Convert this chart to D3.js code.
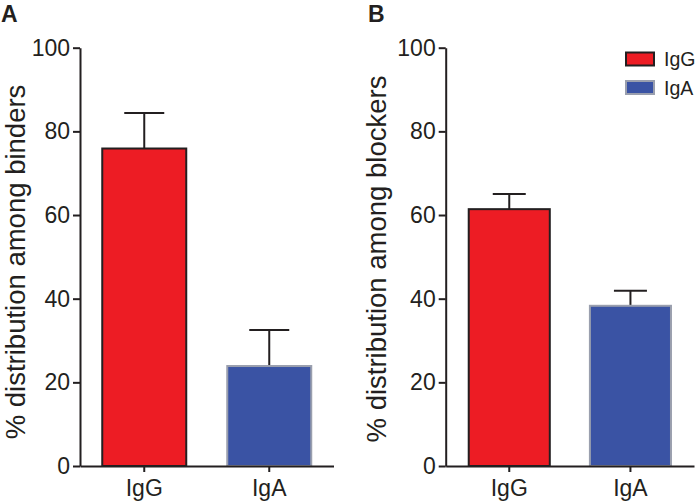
<!DOCTYPE html>
<html>
<head>
<meta charset="utf-8">
<script src="https://cdn.jsdelivr.net/npm/d3@7"></script>
<style>
  html, body { margin: 0; padding: 0; background: #fff; }
  svg { display: block; font-family: "Liberation Sans", Arial, Helvetica, sans-serif; }
</style>
</head>
<body>
<svg id="chart" width="700" height="503"></svg>
<script>
// ---- data ----
const categories = ["IgG", "IgA"];
const bindersMean = [75.9, 23.9];
const bindersSEM = [8.5, 8.6];
const blockersMean = [61.4, 38.3];
const blockersSEM = [3.6, 3.6];
const yTicks = [0, 20, 40, 60, 80, 100];
const panelLetters = ["A", "B"];
const yTitles = ["% distribution among binders", "% distribution among blockers"];
const legendLabels = ["IgG", "IgA"];

// ---- styles ----
const ink = "#231f20";
const fills = ["#ed1c24", "#3a53a4"];
const strokes = ["#231f20", "#9a9fae"];

const svg = d3.select("#chart");

const panels = [
  { mean: bindersMean, sem: bindersSEM, letter: panelLetters[0], title: yTitles[0],
    x0: 80, x1: 333.5, pIn: 0.328, pOut: 0.178, cap: 20, letterX: 1, titleX: 25, titleY: 262, legend: false },
  { mean: blockersMean, sem: blockersSEM, letter: panelLetters[1], title: yTitles[1],
    x0: 445.7, x1: 694, pIn: 0.331, pOut: 0.19, cap: 16.5, letterX: 368, titleX: 386, titleY: 259, legend: true }
];

const yTop = 47.7, yBottom = 466;

panels.forEach(p => {
  const g = svg.append("g");
  const y = d3.scaleLinear().domain([0, 100]).range([yBottom, yTop]);
  const x = d3.scaleBand().domain(categories).range([p.x0, p.x1])
    .paddingInner(p.pIn).paddingOuter(p.pOut);

  // error bars (upper only)
  const eb = g.append("g");
  categories.forEach((c, i) => {
    const cx = x(c) + x.bandwidth() / 2;
    eb.append("line")
      .attr("x1", cx).attr("x2", cx)
      .attr("y1", y(p.mean[i])).attr("y2", y(p.mean[i] + p.sem[i]))
      .attr("stroke", ink).attr("stroke-width", 2);
    eb.append("line")
      .attr("x1", cx - p.cap).attr("x2", cx + p.cap)
      .attr("y1", y(p.mean[i] + p.sem[i])).attr("y2", y(p.mean[i] + p.sem[i]))
      .attr("stroke", ink).attr("stroke-width", 2);
  });

  // bars
  g.append("g").selectAll("rect")
    .data(categories)
    .join("rect")
    .attr("x", c => x(c))
    .attr("width", x.bandwidth())
    .attr("y", (c, i) => y(p.mean[i]))
    .attr("height", (c, i) => y(0) - y(p.mean[i]))
    .attr("fill", (c, i) => fills[i])
    .attr("stroke", (c, i) => strokes[i])
    .attr("stroke-width", 2);

  // y axis
  const ya = g.append("g")
    .attr("transform", `translate(${p.x0},0)`)
    .call(d3.axisLeft(y).tickValues(yTicks).tickSize(7).tickSizeOuter(0).tickPadding(3));
  ya.select(".domain").attr("stroke", ink).attr("stroke-width", 2);
  ya.selectAll(".tick line").attr("stroke", ink).attr("stroke-width", 2);
  ya.selectAll(".tick text").attr("fill", ink)
    .style("font-size", "23px").style("font-family", "'Liberation Sans', Arial, sans-serif");

  // x axis
  const xa = g.append("g")
    .attr("transform", `translate(0,${yBottom})`)
    .call(d3.axisBottom(x).tickSize(6).tickSizeOuter(0).tickPadding(8));
  xa.select(".domain").attr("stroke", ink).attr("stroke-width", 2);
  xa.selectAll(".tick line").attr("stroke", ink).attr("stroke-width", 2);
  xa.selectAll(".tick text").attr("fill", ink)
    .style("font-size", "23px").style("font-family", "'Liberation Sans', Arial, sans-serif");

  // y title
  g.append("text")
    .attr("transform", `translate(${p.titleX},${p.titleY}) rotate(-90)`)
    .attr("text-anchor", "middle")
    .attr("fill", ink)
    .style("font-size", "27.5px")
    .text(p.title);

  // panel letter
  g.append("text")
    .attr("x", p.letterX).attr("y", 21.5)
    .attr("fill", ink)
    .style("font-size", "23px").style("font-weight", "bold")
    .text(p.letter);

  // legend
  if (p.legend) {
    const lg = g.append("g");
    legendLabels.forEach((l, i) => {
      const yy = 52.5 + i * 28.5;
      lg.append("rect")
        .attr("x", 626).attr("y", yy).attr("width", 28).attr("height", 13)
        .attr("fill", fills[i]).attr("stroke", strokes[i]).attr("stroke-width", 2);
      lg.append("text")
        .attr("x", 664).attr("y", yy + 13.5)
        .attr("fill", ink)
        .style("font-size", "19.5px")
        .text(l);
    });
  }
});
</script>
</body>
</html>
